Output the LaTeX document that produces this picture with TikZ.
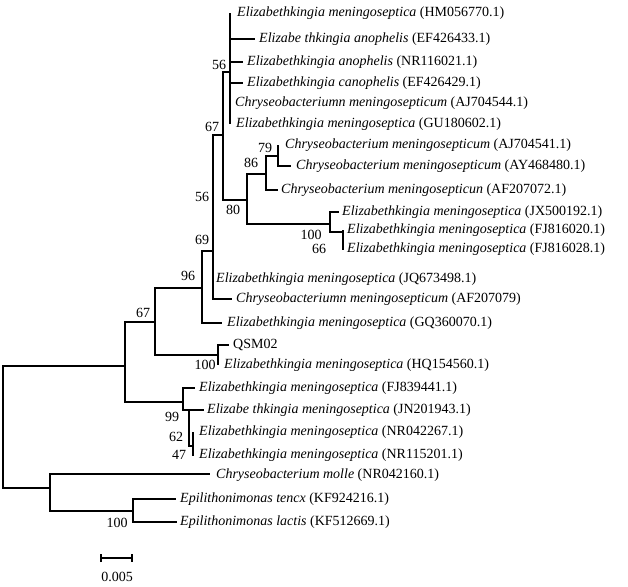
\documentclass[tikz,border=0pt]{standalone}
\usepackage{fontspec}
\setmainfont{Liberation Serif}
\usetikzlibrary{arrows.meta}
\begin{document}
\begin{tikzpicture}[x=1pt,y=-1pt,
  br/.style={line width=2.2pt},
  lf/.style={anchor=west,inner sep=0pt,font=\fontsize{14}{16}\selectfont},
  bs/.style={inner sep=0pt,font=\fontsize{14}{16}\selectfont}]
\useasboundingbox (0,0) rectangle (628,586);
% internal nodes
\coordinate (root) at (3,427);
\coordinate (A) at (125,366);
\coordinate (B) at (155,322);
\coordinate (C) at (202,288);
\coordinate (D) at (213,251);
\coordinate (Dp) at (213,207);
\coordinate (E) at (223,135);
\coordinate (F) at (230,72);
\coordinate (G) at (247,200);
\coordinate (H) at (266,174);
\coordinate (I) at (278,156);
\coordinate (J) at (330,224);
\coordinate (K) at (343,232);
\coordinate (Q) at (218,355);
\coordinate (N) at (183,402);
\coordinate (Y) at (189,410);
\coordinate (Z) at (193,446);
\coordinate (O) at (50,488);
\coordinate (P) at (133,511);
% tips
\coordinate (t1) at (230,13);
\coordinate (t2) at (255,39);
\coordinate (t3) at (243,62);
\coordinate (t4) at (243,83);
\coordinate (t5) at (230,103);
\coordinate (t6) at (230,124);
\coordinate (t7) at (278,145);
\coordinate (t8) at (291,166);
\coordinate (t9) at (278,190);
\coordinate (t10) at (339,212);
\coordinate (t11) at (343,230);
\coordinate (t12) at (343,250);
\coordinate (t13) at (213,279);
\coordinate (t14) at (232,299);
\coordinate (t15) at (222,323);
\coordinate (t16) at (229,345);
\coordinate (t17) at (218,365);
\coordinate (t18) at (195,388);
\coordinate (t19) at (204,410);
\coordinate (t20) at (193,432);
\coordinate (t21) at (193,456);
\coordinate (t22) at (210,474);
\coordinate (t23) at (176,499);
\coordinate (t24) at (177,522);
% leaf labels
\node[lf] (l1) at (237,13) {\textit{Elizabethkingia meningoseptica} (HM056770.1)};
\node[lf] (l2) at (259,39) {\textit{Elizabe thkingia anophelis} (EF426433.1)};
\node[lf] (l3) at (247,62) {\textit{Elizabethkingia anophelis} (NR116021.1)};
\node[lf] (l4) at (247,83) {\textit{Elizabethkingia canophelis} (EF426429.1)};
\node[lf] (l5) at (235,103) {\textit{Chryseobacteriumn meningosepticum} (AJ704544.1)};
\node[lf] (l6) at (236,124) {\textit{Elizabethkingia meningoseptica} (GU180602.1)};
\node[lf] (l7) at (285,145) {\textit{Chryseobacterium meningosepticum} (AJ704541.1)};
\node[lf] (l8) at (296,166) {\textit{Chryseobacterium meningosepticum} (AY468480.1)};
\node[lf] (l9) at (281,190) {\textit{Chryseobacterium meningosepticun} (AF207072.1)};
\node[lf] (l10) at (342,212) {\textit{Elizabethkingia meningoseptica} (JX500192.1)};
\node[lf] (l11) at (347,230) {\textit{Elizabethkingia meningoseptica} (FJ816020.1)};
\node[lf] (l12) at (347,249) {\textit{Elizabethkingia meningoseptica} (FJ816028.1)};
\node[lf] (l13) at (216,279) {\textit{Elizabethkingia meningoseptica} (JQ673498.1)};
\node[lf] (l14) at (236,299) {\textit{Chryseobacteriumn meningosepticum} (AF207079)};
\node[lf] (l15) at (227,323) {\textit{Elizabethkingia meningoseptica} (GQ360070.1)};
\node[lf] (l16) at (233,345) {QSM02};
\node[lf] (l17) at (224,365) {\textit{Elizabethkingia meningoseptica} (HQ154560.1)};
\node[lf] (l18) at (199,388) {\textit{Elizabethkingia meningoseptica} (FJ839441.1)};
\node[lf] (l19) at (207,410) {\textit{Elizabe thkingia meningoseptica} (JN201943.1)};
\node[lf] (l20) at (199,432) {\textit{Elizabethkingia meningoseptica} (NR042267.1)};
\node[lf] (l21) at (199,455) {\textit{Elizabethkingia meningoseptica} (NR115201.1)};
\node[lf] (l22) at (216,475) {\textit{Chryseobacterium molle} (NR042160.1)};
\node[lf] (l23) at (180,499) {\textit{Epilithonimonas tencx} (KF924216.1)};
\node[lf] (l24) at (180,522) {\textit{Epilithonimonas lactis} (KF512669.1)};
% branches
\draw[br] (root) |- (A);
\draw[br] (root) |- (O);
\draw[br] (A) |- (B);
\draw[br] (A) |- (N);
\draw[br] (B) |- (C);
\draw[br] (B) |- (Q);
\draw[br] (C) |- (D);
\draw[br] (C) |- (t15);
\draw[br] (D) |- (Dp);
\draw[br] (D) |- (t14);
\draw[br] (Dp) |- (E);
\draw[br] (Dp) |- (t13);
\draw[br] (E) |- (F);
\draw[br] (E) |- (G);
\foreach \t in {t1,t2,t3,t4,t5,t6} \draw[br] (F) |- (\t);
\draw[br] (G) |- (H);
\draw[br] (G) |- (J);
\draw[br] (H) |- (I);
\draw[br] (H) |- (t9);
\draw[br] (I) |- (t7);
\draw[br] (I) |- (t8);
\draw[br] (J) |- (t10);
\draw[br] (J) |- (K);
\draw[br] (K) |- (t11);
\draw[br] (K) |- (t12);
\draw[br] (Q) |- (t16);
\draw[br] (Q) |- (t17);
\draw[br] (N) |- (t18);
\draw[br] (N) |- (Y);
\draw[br] (Y) |- (t19);
\draw[br] (Y) |- (Z);
\draw[br] (Z) |- (t20);
\draw[br] (Z) |- (t21);
\draw[br] (O) |- (t22);
\draw[br] (O) |- (P);
\draw[br] (P) |- (t23);
\draw[br] (P) |- (t24);
% bootstrap values
\node[bs] (b1) at (219,65) {56};
\node[bs] (b2) at (212,127) {67};
\node[bs] (b3) at (265,148) {79};
\node[bs] (b4) at (251,163) {86};
\node[bs] (b5) at (202,197) {56};
\node[bs] (b6) at (233,210) {80};
\node[bs] (b7) at (311,235) {100};
\node[bs] (b8) at (319,249) {66};
\node[bs] (b9) at (202,240) {69};
\node[bs] (b10) at (188,276) {96};
\node[bs] (b11) at (143,313) {67};
\node[bs] (b12) at (205,365) {100};
\node[bs] (b13) at (172,417) {99};
\node[bs] (b14) at (176,437) {62};
\node[bs] (b15) at (179,455) {47};
\node[bs] (b16) at (117,523) {100};
% scale bar
\coordinate (s1) at (100,558);
\coordinate (s2) at (133,558);
\draw[line width=2pt,{Bar[width=8pt]}-{Bar[width=8pt]}] (s1) -- (s2);
\node[bs] (sl) at (117,577) {0.005};
\end{tikzpicture}
\end{document}
